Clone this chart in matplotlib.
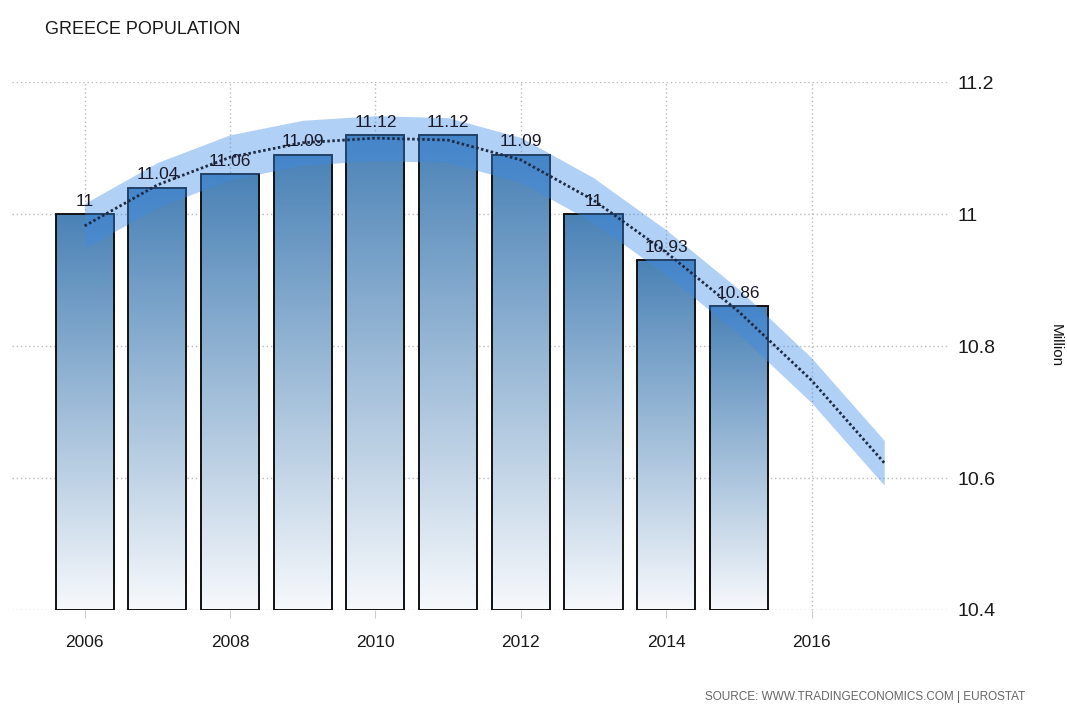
import numpy as np
import matplotlib
matplotlib.use("Agg")
import matplotlib.pyplot as plt
from matplotlib.colors import LinearSegmentedColormap

plt.rcParams['font.family'] = ['Liberation Sans', 'DejaVu Sans']

years = [2006, 2007, 2008, 2009, 2010, 2011, 2012, 2013, 2014, 2015]
population = [11.0, 11.04, 11.06, 11.09, 11.12, 11.12, 11.09, 11.0, 10.93, 10.86]
labels = ['11', '11.04', '11.06', '11.09', '11.12', '11.12', '11.09', '11', '10.93', '10.86']

trend_years = [2006, 2007, 2008, 2009, 2010, 2011, 2012, 2013, 2014, 2015, 2016, 2017]
trend_values = [10.982, 11.044, 11.086, 11.108, 11.115, 11.112, 11.082, 11.021, 10.942, 10.852, 10.748, 10.623]
band_half = 0.034

xticks = [2006, 2008, 2010, 2012, 2014, 2016]
yticks = [10.4, 10.6, 10.8, 11.0, 11.2]
ytick_labels = ['10.4', '10.6', '10.8', '11', '11.2']

fig = plt.figure(figsize=(10.67, 7.07), dpi=100)
ax = fig.add_axes([0.0112, 0.1372, 0.8788, 0.7468])

cmap = LinearSegmentedColormap.from_list('bar', ['#f7f9fc', '#4a82b6'])
grad = np.linspace(0, 1, 256).reshape(-1, 1)
bottom = 10.4
width = 0.8
bars = ax.bar(years, [v - bottom for v in population], bottom=bottom, width=width,
              color='none', edgecolor='#111111', linewidth=1.4, zorder=3)
for b in bars:
    x0 = b.get_x()
    x1 = x0 + b.get_width()
    y0 = b.get_y()
    y1 = y0 + b.get_height()
    im = ax.imshow(grad, extent=[x0, x1, y0, y1], origin='lower', aspect='auto',
                   cmap=cmap, zorder=2, interpolation='bilinear')
    im.set_clip_path(b)

tv = np.array(trend_values)
ax.fill_between(trend_years, tv - band_half, tv + band_half, color='#3d8ae6', alpha=0.4,
                linewidth=0, zorder=4)
ax.plot(trend_years, trend_values, linestyle=(0, (0.9, 0.9)), color='#1c2a44', linewidth=2.0,
        zorder=5)

for x, v, t in zip(years, population, labels):
    ax.text(x, v + 0.008, t, ha='center', va='bottom', fontsize=12.5, color='#1a1a2a', zorder=6)

ax.set_xlim(2005.0, 2017.9)
ax.set_ylim(10.4, 11.2)
ax.set_xticks(xticks)
ax.set_xticklabels([str(x) for x in xticks])
ax.set_yticks(yticks)
ax.set_yticklabels(ytick_labels)
ax.yaxis.tick_right()
ax.yaxis.set_label_position('right')
ax.set_ylabel('Million', rotation=270, fontsize=11, color='#111111', labelpad=38, va='bottom')
ax.tick_params(axis='y', length=0, pad=6, labelsize=14, labelcolor='#1a1a1a')
ax.tick_params(axis='x', length=6, color='#cccccc', pad=12, labelsize=12.5, labelcolor='#1a1a1a')
for s in ax.spines.values():
    s.set_visible(False)
ax.grid(True, linestyle=(0, (1, 2)), color='#bbbbbb', linewidth=1, zorder=0)
ax.set_axisbelow(True)

fig.text(45 / 1067, 1 - 30 / 707, 'GREECE POPULATION', fontsize=13, color='#1a1a1a',
         ha='left', va='center')
fig.text(1025 / 1067, 1 - 697 / 707, 'SOURCE: WWW.TRADINGECONOMICS.COM | EUROSTAT', fontsize=8.5,
         color='#666666', ha='right', va='center')

fig.savefig('out.png', dpi=100)
